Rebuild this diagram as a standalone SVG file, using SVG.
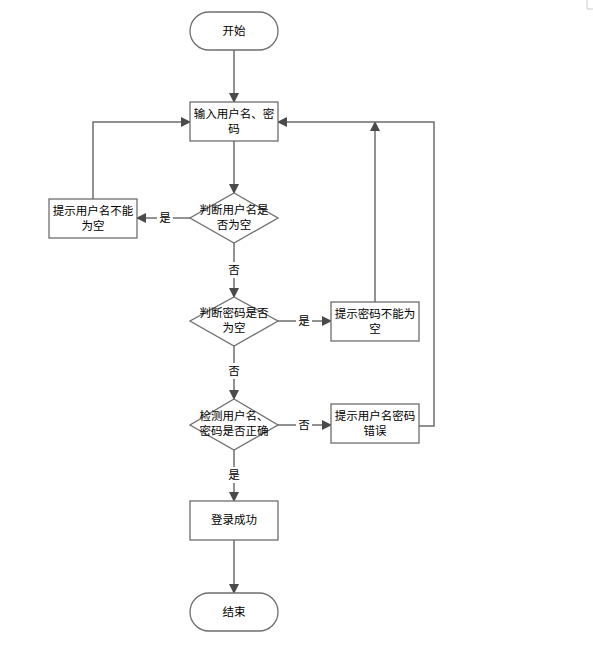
<svg xmlns="http://www.w3.org/2000/svg" width="593" height="648" viewBox="0 0 593 648">
<style>
.s{fill:#fff;stroke:#6e6e6e;stroke-width:1.3}
.t{font-family:"Noto Sans CJK SC","Noto Sans",sans-serif;font-size:11.5px;fill:#000;text-anchor:middle}
.c{fill:none;stroke:#6e6e6e;stroke-width:1.5}
.lb{fill:#fff}
</style>
<defs>
<marker id="a" markerWidth="10" markerHeight="10" refX="9" refY="5" orient="auto" markerUnits="userSpaceOnUse">
<path d="M0,0 L10,5 L0,10 Z" fill="#4a4a4a"/>
</marker>
</defs>
<rect width="593" height="648" fill="#fff"/>
<path d="M587,0 V9 H593" fill="none" stroke="#ccc" stroke-width="1"/>
<g id="connectors">
<path class="c" d="M234,50 V102" marker-end="url(#a)"/>
<path class="c" d="M234,141 V193" marker-end="url(#a)"/>
<path class="c" d="M190,218 H137" marker-end="url(#a)"/>
<path class="c" d="M93,199 V122 H190" marker-end="url(#a)"/>
<path class="c" d="M234,243 V297" marker-end="url(#a)"/>
<path class="c" d="M278,321 H331" marker-end="url(#a)"/>
<path class="c" d="M375,302 V122" marker-end="url(#a)"/>
<path class="c" d="M419,426 H434 V122 H278" marker-end="url(#a)"/>
<path class="c" d="M234,346 V399" marker-end="url(#a)"/>
<path class="c" d="M278,425 H331" marker-end="url(#a)"/>
<path class="c" d="M234,450 V501" marker-end="url(#a)"/>
<path class="c" d="M234,540 V593" marker-end="url(#a)"/>
<rect class="lb" x="157" y="210" width="16" height="16"/>
<text class="t" x="165" y="222">是</text>
<rect class="lb" x="226" y="262" width="16" height="16"/>
<text class="t" x="234" y="274">否</text>
<rect class="lb" x="296" y="313" width="16" height="16"/>
<text class="t" x="304" y="325">是</text>
<rect class="lb" x="226" y="363" width="16" height="16"/>
<text class="t" x="234" y="375">否</text>
<rect class="lb" x="296" y="417" width="16" height="16"/>
<text class="t" x="304" y="429">否</text>
<rect class="lb" x="226" y="467" width="16" height="16"/>
<text class="t" x="234" y="479">是</text>
</g>
<g id="start">
<rect class="s" x="190" y="12" width="88" height="38" rx="19"/>
<text class="t" x="234" y="35">开始</text>
</g>
<g id="input">
<rect class="s" x="190" y="102" width="88" height="39"/>
<text class="t" x="234" y="118">输入用户名、密</text>
<text class="t" x="234" y="133">码</text>
</g>
<g id="check-user">
<path class="s" d="M234,193 L278,218 L234,243 L190,218 Z"/>
<text class="t" x="234" y="214">判断用户名是</text>
<text class="t" x="234" y="229">否为空</text>
</g>
<g id="msg-user">
<rect class="s" x="49" y="199" width="88" height="39"/>
<text class="t" x="93" y="215">提示用户名不能</text>
<text class="t" x="93" y="230">为空</text>
</g>
<g id="check-pwd">
<path class="s" d="M234,297 L278,321 L234,346 L190,321 Z"/>
<text class="t" x="234" y="317">判断密码是否</text>
<text class="t" x="234" y="332">为空</text>
</g>
<g id="msg-pwd">
<rect class="s" x="331" y="302" width="88" height="39"/>
<text class="t" x="375" y="318">提示密码不能为</text>
<text class="t" x="375" y="333">空</text>
</g>
<g id="verify">
<path class="s" d="M234,399 L278,425 L234,450 L190,425 Z"/>
<text class="t" x="234" y="420">检测用户名、</text>
<text class="t" x="234" y="435">密码是否正确</text>
</g>
<g id="msg-wrong">
<rect class="s" x="331" y="404" width="88" height="39"/>
<text class="t" x="375" y="420">提示用户名密码</text>
<text class="t" x="375" y="435">错误</text>
</g>
<g id="success">
<rect class="s" x="190" y="501" width="88" height="39"/>
<text class="t" x="234" y="524">登录成功</text>
</g>
<g id="end">
<rect class="s" x="190" y="593" width="88" height="38" rx="19"/>
<text class="t" x="234" y="616">结束</text>
</g>
</svg>
